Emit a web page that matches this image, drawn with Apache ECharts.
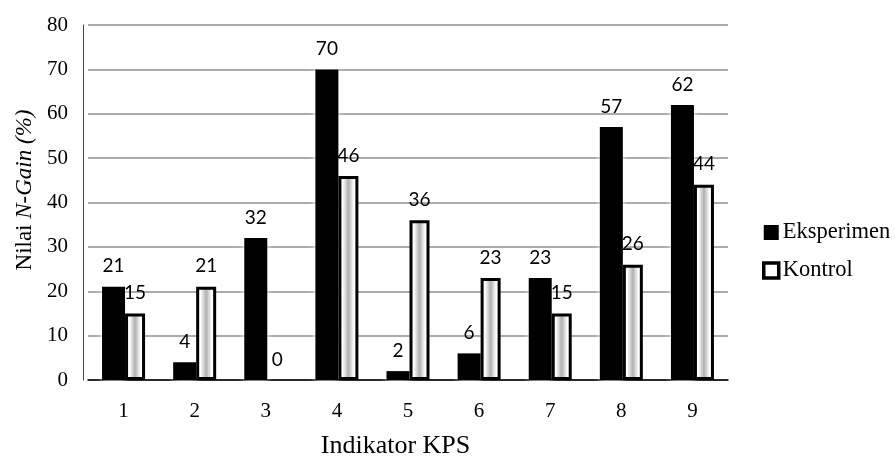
<!DOCTYPE html>
<html><head><meta charset="utf-8">
<script src="https://cdn.jsdelivr.net/npm/echarts@6/dist/echarts.min.js"></script>
<style>html,body{margin:0;padding:0;background:#fff}#c{width:895px;height:459px}</style>
</head><body><div id="c"></div>
<script>
var categories = ['1','2','3','4','5','6','7','8','9'];
var eksperimen = [21, 4, 32, 70, 2, 6, 23, 57, 62];
var kontrol = [15, 21, 0, 46, 36, 23, 15, 26, 44];
var yTicks = [0, 10, 20, 30, 40, 50, 60, 70, 80];

var serif = '"Liberation Serif", "Times New Roman", serif';
var labelFont = 'Lato, "Open Sans", sans-serif';
var chart = echarts.init(document.getElementById('c'));
var kontrolFill = new echarts.graphic.LinearGradient(0, 0, 1, 0, [
  {offset: 0, color: '#ffffff'}, {offset: 0.22, color: '#ffffff'},
  {offset: 0.5, color: '#b0b0b0'}, {offset: 0.78, color: '#ffffff'},
  {offset: 1, color: '#ffffff'}
]);
chart.setOption({
  animation: false,
  grid: {left: 88, right: 167, top: 25, bottom: 79, containLabel: false, outerBoundsMode: 'none'},
  legend: {
    orient: 'vertical', left: 757, top: 216, itemGap: 15,
    itemWidth: 15, itemHeight: 15,
    textStyle: {fontFamily: serif, fontSize: 22.5, color: '#000', padding: [0,0,0,-1]},
    data: [
      {name: 'Eksperimen', icon: 'rect', itemStyle: {color: '#000', borderWidth: 0}},
      {name: 'Kontrol', icon: 'rect', itemStyle: {color: '#fff', borderColor: '#000', borderWidth: 3.5}}
    ]
  },
  xAxis: {
    type: 'category', data: categories,
    name: 'Indikator KPS', nameLocation: 'middle', nameGap: 53,
    nameTextStyle: {fontFamily: serif, fontSize: 26, color: '#000', padding: [0, 25, 0, 0]},
    axisLine: {lineStyle: {color: '#000', width: 1.5}},
    axisTick: {show: false},
    axisLabel: {fontFamily: serif, fontSize: 21, color: '#000', margin: 21}
  },
  yAxis: {
    type: 'value', min: yTicks[0], max: yTicks[yTicks.length-1], interval: 10,
    offset: 5,
    name: '{n|Nilai }{i|N-Gain (%)}', nameLocation: 'middle', nameGap: 47,
    nameTextStyle: {padding: [0, 0, 0, 25], rich: {
      n: {fontFamily: serif, fontSize: 23, color: '#000'},
      i: {fontFamily: serif, fontSize: 23, fontStyle: 'italic', color: '#000'}
    }},
    axisLine: {show: true, lineStyle: {color: '#444', width: 1}},
    axisTick: {show: false},
    axisLabel: {fontFamily: serif, fontSize: 21, color: '#000', margin: 15},
    splitLine: {lineStyle: {color: '#ababab', width: 2}}
  },
  series: [
    {
      name: 'Eksperimen', type: 'bar', data: eksperimen,
      barWidth: 23, barGap: '0%',
      itemStyle: {color: '#000', shadowColor: '#ffffff', shadowBlur: 6},
      label: {show: true, position: 'top', distance: 11,
        fontFamily: labelFont, fontSize: 19, color: '#000'}
    },
    {
      name: 'Kontrol', type: 'bar',
      data: kontrol.map(function(v){
        return v === 0 ? {value: v, itemStyle: {borderWidth: 0, color: 'rgba(0,0,0,0)'}} : v;
      }),
      barWidth: 20,
      itemStyle: {color: kontrolFill, borderColor: '#000', borderWidth: 3},
      label: {show: true, position: 'top', distance: 11,
        fontFamily: labelFont, fontSize: 19, color: '#000'}
    }
  ]
});
</script></body></html>
